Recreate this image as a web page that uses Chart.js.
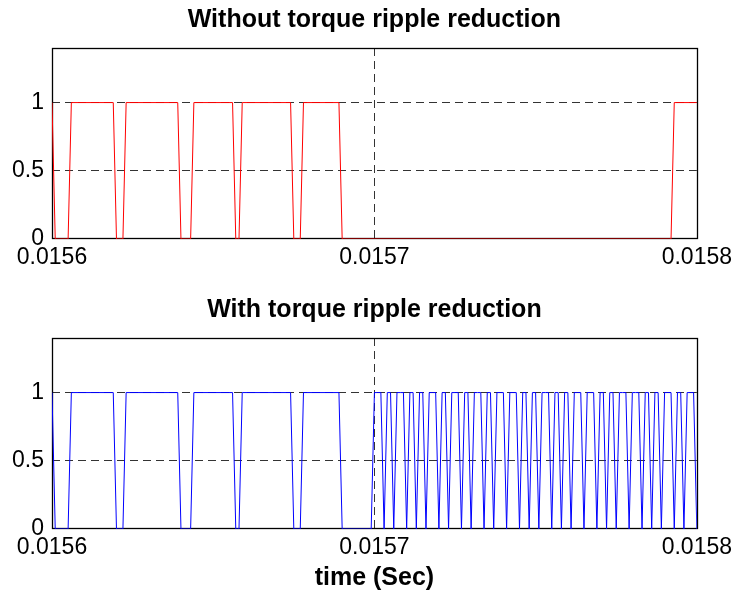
<!DOCTYPE html>
<html><head><meta charset="utf-8">
<script src="https://cdn.jsdelivr.net/npm/chart.js@4.4.0/dist/chart.umd.min.js"></script>
<style>
html,body{margin:0;padding:0;background:#fff;}
body{width:737px;height:596px;position:relative;overflow:hidden;}
canvas{position:absolute;left:0;}
</style></head><body>
<canvas id="c1" width="737" height="282" style="top:0px"></canvas>
<canvas id="c2" width="737" height="306" style="top:290px"></canvas>
<script>
// ---- data (time offsets in microseconds from 0.0156 s) ----
const timeStart = 0.0156;
const timeEnd = 0.0158;
const xTickValues = [0.0156, 0.0157, 0.0158];
const xTickLabels = ["0.0156", "0.0157", "0.0158"];
const yTickValues = [0, 0.5, 1];
const yTickLabels = ["0", "0.5", "1"];

const topTitle = "Without torque ripple reduction";
const bottomTitle = "With torque ripple reduction";
const xAxisTitle = "time (Sec)";

// Without torque ripple reduction (red)
const topTimesUs = [0,1,5,6,19,20,22,23,39,40,43,44,56,57,58,59,74,75,77,78,89,90,192,193,200];
const topValues  = [1,0,0,1,1,0,0,1,1,0,0,1,1,0,0,1,1,0,0,1,1,0,0,1,1];

// With torque ripple reduction (blue)
const bottomTimesUs = [0,1,5,6,19,20,22,23,39,40,43,44,56,57,58,59,74,75,77,78,89,90,99,
  100,101,102,103,104,105,106,107,108,109,
  110,111,112,113,114,115,116,117,118,119,
  120,121,122,123,124,125,126,127,128,129,
  130,131,132,133,134,135,136,137,138,139,
  140,141,142,143,144,145,146,147,148,149,
  150,151,152,153,154,155,156,157,158,159,
  160,161,162,163,164,165,166,167,168,169,
  170,171,172,173,174,175,176,177,178,179,
  180,181,182,183,184,185,186,187,188,189,
  190,191,192,193,194,195,196,197,198,199,
  200];
const bottomValues = [1,0,0,1,1,0,0,1,1,0,0,1,1,0,0,1,1,0,0,1,1,0,0,
  1,1,1,0,1,1,0,1,1,1,
  0,1,1,0,1,1,0,1,1,1,
  0,1,1,0,1,1,1,0,1,1,
  0,1,1,1,0,1,1,0,1,1,
  1,0,1,1,1,0,1,1,0,1,
  1,0,1,1,1,0,1,1,0,1,
  1,0,1,1,1,0,1,1,1,0,
  1,1,0,1,1,0,1,1,1,0,
  1,1,1,0,1,1,0,1,1,0,
  1,1,1,0,1,1,0,1,1,1,
  0];

const FONT = "'Liberation Sans', Arial, Helvetica, sans-serif";

function toPoints(timesUs, values){
  return timesUs.map((u,i)=>({x: timeStart + u*1e-6, y: values[i]}));
}

const framePlugin = {
  id:'frame',
  beforeDatasetsDraw(chart){
    const {ctx, chartArea:a} = chart;
    ctx.save();
    ctx.setLineDash([]);
    ctx.strokeStyle = '#000';
    ctx.lineWidth = 1.3;
    const l = Math.round(a.left)+0.5, r = Math.round(a.right)+0.5;
    const t = Math.round(a.top)+0.5, b = Math.round(a.bottom)-0.5;
    ctx.strokeRect(l, t, r-l, b-t);
    ctx.restore();
  }
};

function gridColor(ctx){
  const s = ctx.scale, v = ctx.tick ? ctx.tick.value : null;
  return (v === s.min || v === s.max) ? 'rgba(0,0,0,0)' : '#333';
}

function makeChart(id, H, title, points, color, withXTitle){
  return new Chart(document.getElementById(id), {
    type:'line',
    data:{datasets:[{data:points, borderColor:color, borderWidth:1, pointRadius:0, tension:0, fill:false}]},
    options:{
      responsive:false, animation:false, events:[],
      layout:{padding:{left:0,right:40,top:0,bottom:0}},
      plugins:{
        legend:{display:false}, tooltip:{enabled:false},
        title:{display:true, fullSize:false, text:title, color:'#000',
          font:{family:FONT, size:25, weight:'bold'},
          padding:{top:5, bottom:13}}
      },
      scales:{
        x:{type:'linear', min:timeStart, max:timeEnd,
          afterBuildTicks(s){ s.ticks = xTickValues.map(v=>({value:v})); },
          afterFit(s){ s.height = H - 239; },
          ticks:{autoSkip:false, maxRotation:0, padding:5, color:'#000',
            font:{family:FONT, size:23},
            callback(v,i){ return xTickLabels[i]; }},
          grid:{drawTicks:false, color:gridColor, lineWidth:1},
          border:{display:false, dash:[8,5]},
          title:{display:withXTitle, text:xAxisTitle, color:'#000',
            font:{family:FONT, size:25, weight:'bold'}, padding:{top:0,bottom:3}}
        },
        y:{type:'linear', min:0, max:1.4,
          afterBuildTicks(s){ s.ticks = yTickValues.map(v=>({value:v})); },
          afterFit(s){ s.width = 52; },
          ticks:{padding:8, color:'#000', font:{family:FONT, size:23},
            callback(v,i){ return yTickLabels[i]; }},
          grid:{drawTicks:false, color:gridColor, lineWidth:1},
          border:{display:false, dash:[8,5]}
        }
      }
    },
    plugins:[framePlugin]
  });
}

makeChart('c1', 282, topTitle, toPoints(topTimesUs, topValues), '#ff0000', false);
makeChart('c2', 306, bottomTitle, toPoints(bottomTimesUs, bottomValues), '#0000ff', true);
</script></body></html>
